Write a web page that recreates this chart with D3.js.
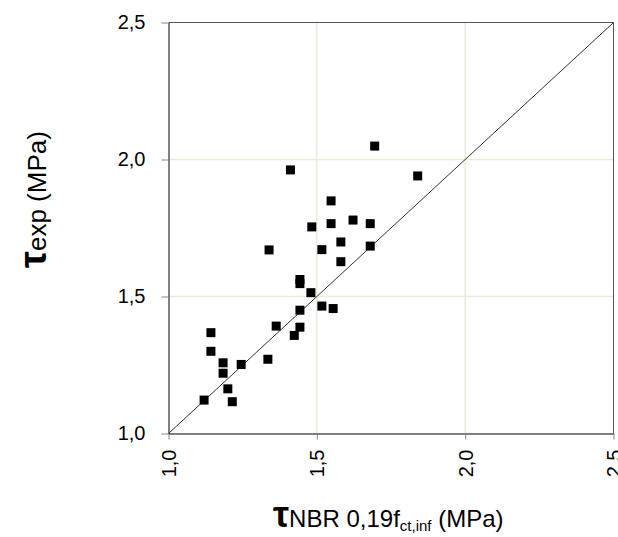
<!DOCTYPE html>
<html>
<head>
<meta charset="utf-8">
<script src="https://cdn.jsdelivr.net/npm/d3@7"></script>
<style>
  body { margin: 0; background: #fff; }
  text { font-family: "Liberation Sans", Arial, sans-serif; fill: #000; }
</style>
</head>
<body>
<div id="chart"></div>
<script>
// data
var tauNBR = [1.695, 1.411, 1.840, 1.548, 1.622, 1.548, 1.680, 1.483, 1.581, 1.339,
              1.517, 1.680, 1.581, 1.443, 1.443, 1.480, 1.517, 1.555, 1.443, 1.363,
              1.443, 1.424, 1.143, 1.143, 1.184, 1.245, 1.335, 1.184, 1.200, 1.120, 1.215];
var tauExp = [2.049, 1.962, 1.940, 1.849, 1.779, 1.766, 1.766, 1.754, 1.699, 1.670,
              1.671, 1.684, 1.627, 1.562, 1.547, 1.514, 1.465, 1.456, 1.450, 1.392,
              1.388, 1.358, 1.368, 1.300, 1.258, 1.252, 1.271, 1.220, 1.163, 1.122, 1.116];
var ticks = [1.0, 1.5, 2.0, 2.5];

var width = 618, height = 537;
var pLeft = 168.5, pRight = 613.5, pTop = 22.5, pBottom = 433.5;

var svg = d3.select("#chart").append("svg")
    .attr("width", width)
    .attr("height", height);

var x = d3.scaleLinear().domain([1, 2.5]).range([pLeft, pRight]);
var y = d3.scaleLinear().domain([1, 2.5]).range([pBottom, pTop]);
var fmt = function(d) { return d3.format(".1f")(d).replace(".", ","); };

// gridlines
svg.append("g").selectAll("line")
    .data(ticks.slice(1, 3)).enter().append("line")
    .attr("x1", function(d) { return x(d); }).attr("x2", function(d) { return x(d); })
    .attr("y1", pTop).attr("y2", pBottom)
    .attr("stroke", "#eeebdc").attr("stroke-width", 1.5);
svg.append("g").selectAll("line")
    .data(ticks.slice(1, 3)).enter().append("line")
    .attr("y1", function(d) { return y(d); }).attr("y2", function(d) { return y(d); })
    .attr("x1", pLeft).attr("x2", pRight)
    .attr("stroke", "#eeebdc").attr("stroke-width", 1.5);

// top and right frame
svg.append("path")
    .attr("d", "M" + pLeft + "," + pTop + "H" + pRight + "V" + pBottom)
    .attr("fill", "none").attr("stroke", "#555").attr("stroke-width", 1);

// axes
var xAxis = d3.axisBottom(x).tickValues(ticks).tickFormat(fmt).tickSize(6).tickSizeOuter(0);
var yAxis = d3.axisLeft(y).tickValues(ticks).tickFormat(fmt).tickSize(7).tickSizeOuter(0);

var gx = svg.append("g")
    .attr("transform", "translate(0," + pBottom + ")")
    .call(xAxis);
gx.select(".domain").attr("stroke", "#000");
gx.selectAll(".tick line").attr("stroke", "#888");
gx.selectAll(".tick text")
    .attr("font-size", 20)
    .attr("font-family", "Liberation Sans, Arial, sans-serif")
    .attr("fill", "#111")
    .attr("transform", "rotate(-90)")
    .attr("text-anchor", "end")
    .attr("x", -16).attr("y", 0).attr("dy", "0.35em");

var gy = svg.append("g")
    .attr("transform", "translate(" + pLeft + ",0)")
    .call(yAxis);
gy.select(".domain").attr("stroke", "#000");
gy.selectAll(".tick line").attr("stroke", "#888");
gy.selectAll(".tick text")
    .attr("font-size", 20)
    .attr("font-family", "Liberation Sans, Arial, sans-serif")
    .attr("fill", "#111")
    .attr("x", -23);

// 1:1 line
svg.append("line")
    .attr("x1", x(1)).attr("y1", y(1))
    .attr("x2", x(2.5)).attr("y2", y(2.5))
    .attr("stroke", "#333").attr("stroke-width", 1);

// points
var sq = 9;
svg.append("g").selectAll("rect")
    .data(tauNBR).enter().append("rect")
    .attr("x", function(d) { return x(d) - sq / 2; })
    .attr("y", function(d, i) { return y(tauExp[i]) - sq / 2; })
    .attr("width", sq).attr("height", sq)
    .attr("fill", "#000");

// x title
var xt = svg.append("text")
    .attr("x", 273).attr("y", 527)
    .attr("font-size", 24);
xt.append("tspan").attr("font-size", 36).attr("font-weight", "bold").text("τ");
xt.append("tspan").text("NBR 0,19f");
xt.append("tspan").attr("font-size", 15).attr("dy", 4).text("ct,inf");
xt.append("tspan").attr("dy", -4).text(" (MPa)");

// y title
var yt = svg.append("text")
    .attr("transform", "translate(46,268) rotate(-90)")
    .attr("font-size", 26);
yt.append("tspan").attr("font-size", 38).attr("font-weight", "bold").text("τ");
yt.append("tspan").text("exp (MPa)");
</script>
</body>
</html>
